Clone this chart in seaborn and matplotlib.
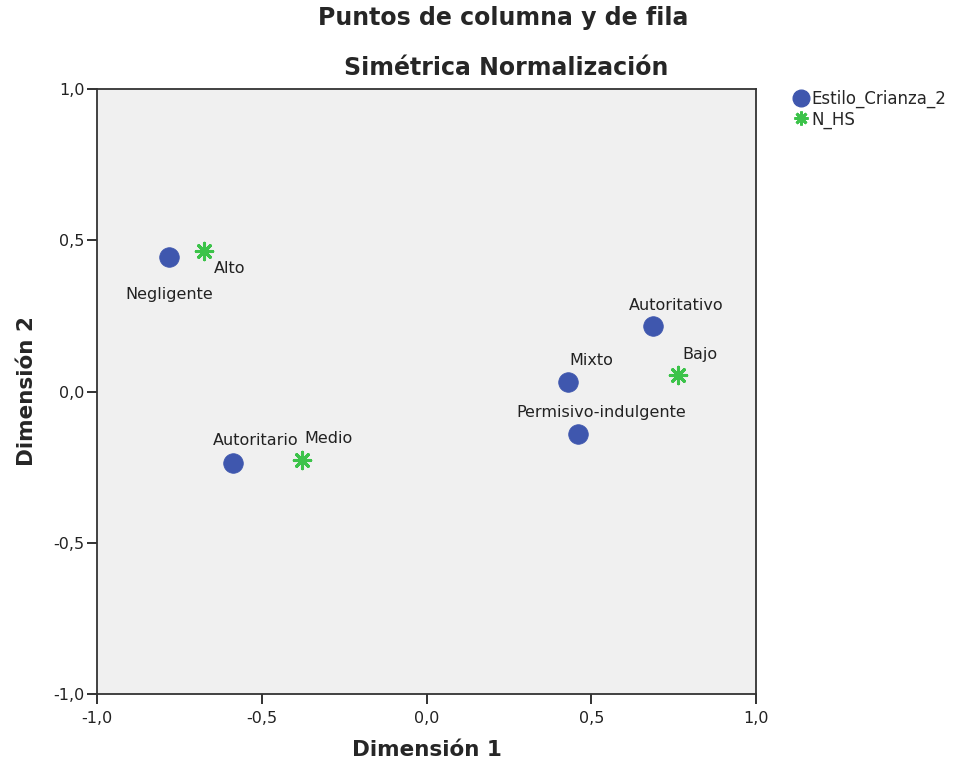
import matplotlib
matplotlib.use("Agg")
import matplotlib.pyplot as plt
import seaborn as sns
import pandas as pd
from matplotlib.lines import Line2D

sns.set_style("white")
plt.rcParams['font.family'] = ['DejaVu Sans']

estilo_labels = ["Negligente", "Autoritario", "Mixto", "Permisivo-indulgente", "Autoritativo"]
estilo_x = [-0.781, -0.587, 0.429, 0.460, 0.687]
estilo_y = [0.446, -0.238, 0.033, -0.139, 0.215]

nhs_labels = ["Alto", "Medio", "Bajo"]
nhs_x = [-0.675, -0.378, 0.763]
nhs_y = [0.466, -0.225, 0.056]

ticks = [-1.0, -0.5, 0.0, 0.5, 1.0]
tick_labels = ["-1,0", "-0,5", "0,0", "0,5", "1,0"]

df_e = pd.DataFrame({"x": estilo_x, "y": estilo_y, "label": estilo_labels})
df_n = pd.DataFrame({"x": nhs_x, "y": nhs_y, "label": nhs_labels})

blue = "#3F57AE"
green = "#3CC34A"

fig = plt.figure(figsize=(9.58, 7.66), dpi=100)
ax = fig.add_axes([0.1013, 0.094, 0.6879, 0.7898])
ax.set_facecolor("#F0F0F0")

sns.scatterplot(data=df_e, x="x", y="y", ax=ax, color=blue, s=200, marker="o",
                edgecolor=blue, linewidth=0.5, zorder=3, legend=False)
sns.scatterplot(data=df_n, x="x", y="y", ax=ax, color=green, s=140, marker=(8, 2, 0),
                edgecolor=green, linewidth=2.2, zorder=3, legend=False)

offsets = {
    "Negligente": (0, -38), "Alto": (25, -18),
    "Autoritario": (23, 23), "Medio": (27, 21),
    "Mixto": (23, 21), "Permisivo-indulgente": (23, 21),
    "Autoritativo": (23, 21), "Bajo": (22, 20),
}
for d in (df_e, df_n):
    for _, r in d.iterrows():
        dx, dy = offsets[r["label"]]
        ax.annotate(r["label"], (r["x"], r["y"]), xytext=(dx, dy),
                    textcoords="offset pixels", ha="center", va="center",
                    fontsize=11.5, color="#222222")

ax.set_xlim(-1, 1)
ax.set_ylim(-1, 1)
ax.set_xticks(ticks)
ax.set_xticklabels(tick_labels)
ax.set_yticks(ticks)
ax.set_yticklabels(tick_labels)
ax.tick_params(bottom=True, left=True, direction="out", length=7, width=1.3,
               labelsize=11.5, colors="#222222", pad=2)
ax.tick_params(axis="x", pad=5)
for sp in ax.spines.values():
    sp.set_color("#333333")
    sp.set_linewidth(1.3)

ax.set_xlabel("Dimensión 1", fontsize=15.5, fontweight="bold", labelpad=10)
ax.set_ylabel("Dimensión 2", fontsize=15.5, fontweight="bold", labelpad=12)

fig.text(0.525, 0.976, "Puntos de columna y de fila", ha="center", va="center",
         fontsize=17, fontweight="bold")
fig.text(0.528, 0.911, "Simétrica Normalización", ha="center", va="center",
         fontsize=17, fontweight="bold")

handles = [
    Line2D([], [], marker="o", color=blue, linestyle="none", markersize=12),
    Line2D([], [], marker=(8, 2, 0), color=green, markeredgecolor=green,
           markeredgewidth=2, linestyle="none", markersize=10),
]
fig.legend(handles, ["Estilo_Crianza_2", "N_HS"], loc="upper left",
           bbox_to_anchor=(0.814, 0.894), frameon=False, fontsize=12,
           handletextpad=-0.1, labelspacing=0.15, borderpad=0, handlelength=1.5)

fig.savefig("out.png", dpi=100)
